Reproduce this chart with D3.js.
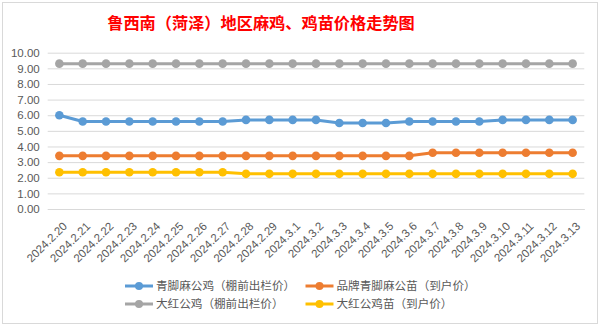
<!DOCTYPE html>
<html>
<head>
<meta charset="utf-8">
<script src="https://cdn.jsdelivr.net/npm/d3@7/dist/d3.min.js"></script>
<style>
  html, body { margin: 0; padding: 0; background: #fff; }
  svg { display: block; }
</style>
</head>
<body>
<svg id="chart" width="602" height="327"></svg>
<script>
// Dates along the category axis
const dates = [
  "2024.2.20", "2024.2.21", "2024.2.22", "2024.2.23", "2024.2.24", "2024.2.25",
  "2024.2.26", "2024.2.27", "2024.2.28", "2024.2.29", "2024.3.1", "2024.3.2",
  "2024.3.3", "2024.3.4", "2024.3.5", "2024.3.6", "2024.3.7", "2024.3.8",
  "2024.3.9", "2024.3.10", "2024.3.11", "2024.3.12", "2024.3.13"
];

// Prices (元/斤)
const qingjiaoRooster = [6.0, 5.6, 5.6, 5.6, 5.6, 5.6, 5.6, 5.6, 5.7, 5.7, 5.7, 5.7,
  5.5, 5.5, 5.5, 5.6, 5.6, 5.6, 5.6, 5.7, 5.7, 5.7, 5.7];
const brandChick = [3.4, 3.4, 3.4, 3.4, 3.4, 3.4, 3.4, 3.4, 3.4, 3.4, 3.4, 3.4,
  3.4, 3.4, 3.4, 3.4, 3.6, 3.6, 3.6, 3.6, 3.6, 3.6, 3.6];
const redRooster = [9.3, 9.3, 9.3, 9.3, 9.3, 9.3, 9.3, 9.3, 9.3, 9.3, 9.3, 9.3,
  9.3, 9.3, 9.3, 9.3, 9.3, 9.3, 9.3, 9.3, 9.3, 9.3, 9.3];
const redChick = [2.35, 2.35, 2.35, 2.35, 2.35, 2.35, 2.35, 2.35, 2.25, 2.25, 2.25, 2.25,
  2.25, 2.25, 2.25, 2.25, 2.25, 2.25, 2.25, 2.25, 2.25, 2.25, 2.25];

const seriesNames = ["青脚麻公鸡（棚前出栏价）", "品牌青脚麻公苗（到户价）",
  "大红公鸡（棚前出栏价）", "大红公鸡苗（到户价）"];
const seriesColors = ["#5B9BD5", "#ED7D31", "#A5A5A5", "#FFC000"];
const yTicks = [0, 1, 2, 3, 4, 5, 6, 7, 8, 9, 10];

const series = [qingjiaoRooster, brandChick, redRooster, redChick].map((v, i) => ({
  name: seriesNames[i], color: seriesColors[i], values: v
}));

const svg = d3.select("#chart");
const plot = { left: 47.7, right: 584.3, top: 52.7, bottom: 209 };
const txt = "#595959";
const cjk = "'Noto Sans CJK SC', 'Noto Sans', sans-serif";
const num = "'Liberation Sans', Arial, sans-serif";

// Chart frame
svg.append("rect")
  .attr("x", 2.5).attr("y", 2.5).attr("width", 595).attr("height", 321)
  .attr("fill", "#fff").attr("stroke", "#d9d9d9").attr("stroke-width", 1);

// Title
svg.append("text")
  .attr("x", 261).attr("y", 28.5)
  .attr("text-anchor", "middle")
  .attr("font-family", cjk).attr("font-weight", "bold")
  .attr("font-size", 16.2).attr("fill", "#FF0000")
  .text("鲁西南（菏泽）地区麻鸡、鸡苗价格走势图");

const x = d3.scalePoint().domain(dates).range([plot.left, plot.right]).padding(0.5);
const y = d3.scaleLinear().domain([0, 10]).range([plot.bottom, plot.top]);

// Horizontal gridlines and value axis
const yAxis = d3.axisLeft(y).tickValues(yTicks).tickFormat(d3.format(".2f"))
  .tickSize(-(plot.right - plot.left)).tickPadding(8);
const gy = svg.append("g").attr("transform", `translate(${plot.left},0)`).call(yAxis);
gy.select(".domain").remove();
gy.selectAll(".tick line").attr("stroke", "#d9d9d9").attr("stroke-width", 1);
gy.selectAll(".tick text")
  .attr("fill", txt).attr("font-family", num).attr("font-size", 11.5);

// Category axis with rotated date labels
const xAxis = d3.axisBottom(x).tickSize(0).tickPadding(0);
const gx = svg.append("g").attr("transform", `translate(0,${plot.bottom})`).call(xAxis);
gx.select(".domain").attr("stroke", "#d9d9d9");
gx.selectAll(".tick text")
  .attr("fill", txt).attr("font-family", num).attr("font-size", 11.5)
  .attr("text-anchor", "end")
  .attr("dy", "0.35em")
  .attr("transform", "translate(5,15) rotate(-45)");

// Series lines and markers
const line = d3.line().x((d, i) => x(dates[i])).y(d => y(d));
const gs = svg.append("g");
series.forEach(s => {
  const g = gs.append("g");
  g.append("path").datum(s.values)
    .attr("d", line).attr("fill", "none")
    .attr("stroke", s.color).attr("stroke-width", 3)
    .attr("stroke-linejoin", "round");
  g.selectAll("circle").data(s.values).join("circle")
    .attr("cx", (d, i) => x(dates[i])).attr("cy", d => y(d))
    .attr("r", 4.3).attr("fill", s.color);
});

// Legend (two rows, two columns)
const legendPos = [[125, 286], [305.5, 286], [125, 304], [305.5, 304]];
series.forEach((s, i) => {
  const [lx, ly] = legendPos[i];
  const g = svg.append("g").attr("transform", `translate(${lx},${ly})`);
  g.append("line").attr("x1", 0).attr("x2", 28).attr("y1", 0).attr("y2", 0)
    .attr("stroke", s.color).attr("stroke-width", 3);
  g.append("circle").attr("cx", 14).attr("cy", 0).attr("r", 4).attr("fill", s.color);
  g.append("text").attr("x", 31).attr("y", 0).attr("dy", "0.36em")
    .attr("font-family", cjk).attr("font-size", 11.6).attr("fill", txt)
    .text(s.name);
});
</script>
</body>
</html>
